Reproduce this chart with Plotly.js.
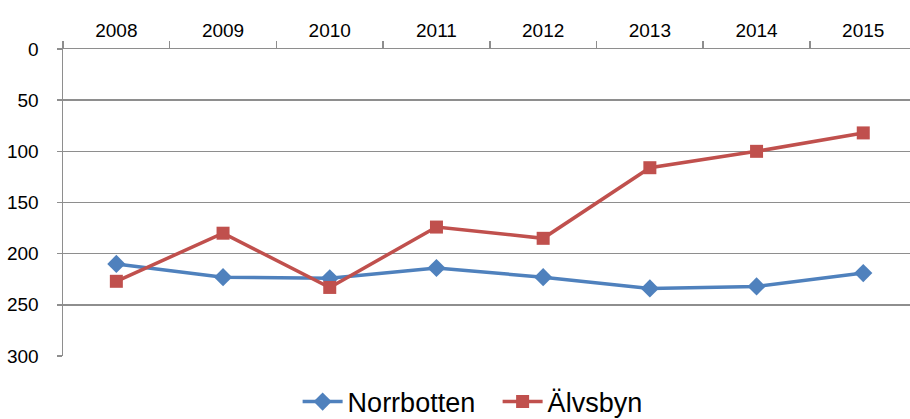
<!DOCTYPE html>
<html>
<head>
<meta charset="utf-8">
<script src="https://cdn.plot.ly/plotly-3.0.1.min.js"></script>
<style>html,body{margin:0;padding:0;background:#fff;}#chart{width:910px;height:419px;}</style>
</head>
<body>
<div id="chart"></div>
<script>
const years = ['2008','2009','2010','2011','2012','2013','2014','2015'];
const norrbotten = [210, 223, 224, 214, 223, 234, 232, 219];
const alvsbyn = [227, 180, 233, 174, 185, 116, 100, 82];
const yTicks = [0, 50, 100, 150, 200, 250, 300];

const fontFam = 'Liberation Sans, Arial, sans-serif';
const grid = '#8e8e8e';

const traces = [
  {
    x: years, y: norrbotten, name: 'Norrbotten', type: 'scatter', mode: 'lines+markers',
    line: {color: '#4F81BD', width: 3.5},
    marker: {symbol: 'diamond', size: 14, color: '#4F81BD'}
  },
  {
    x: years, y: alvsbyn, name: 'Älvsbyn', type: 'scatter', mode: 'lines+markers',
    line: {color: '#C0504D', width: 3.5},
    marker: {symbol: 'square', size: 13, color: '#C0504D'}
  }
];

const layout = {
  width: 910, height: 419,
  margin: {l: 63, r: 0, t: 49, b: 63, autoexpand: false},
  paper_bgcolor: '#fff', plot_bgcolor: '#fff',
  font: {family: fontFam, color: '#000'},
  showlegend: true,
  legend: {
    orientation: 'h', x: 0.277, xanchor: 'left', y: -0.15, yanchor: 'middle',
    font: {size: 27, family: fontFam, color: '#000'}, itemwidth: 40,
    entrywidth: 145, entrywidthmode: 'pixels'
  },
  xaxis: {
    type: 'category', side: 'top', range: [-0.5, 7.438],
    tickson: 'boundaries', ticks: 'outside', ticklen: 7, tickwidth: 1.5, tickcolor: grid,
    showline: true, linecolor: grid, linewidth: 1.5, showgrid: false, zeroline: false,
    tickfont: {size: 19, family: fontFam, color: '#000'}, ticklabelstandoff: 3
  },
  yaxis: {
    range: [300, 0], tickvals: yTicks, ticktext: yTicks.map(String),
    ticks: 'outside', ticklen: 5, tickwidth: 1.5, tickcolor: grid,
    showline: true, linecolor: grid, linewidth: 1.5,
    showgrid: true, gridcolor: grid, gridwidth: 1.5, zeroline: false,
    tickfont: {size: 19, family: fontFam, color: '#000'}, ticklabelstandoff: 14
  }
};

Plotly.newPlot('chart', traces, layout, {displayModeBar: false, staticPlot: true});
</script>
</body>
</html>
